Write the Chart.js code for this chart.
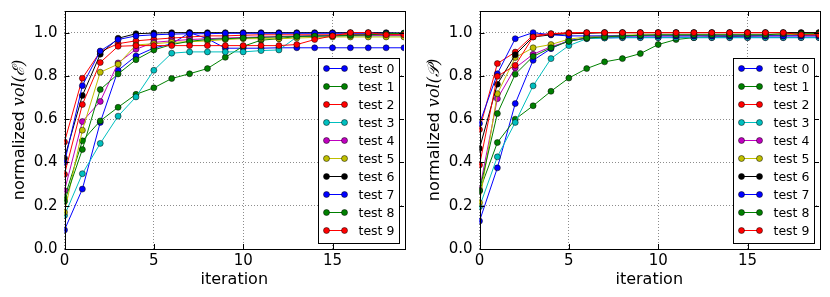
<!DOCTYPE html>
<html>
<head>
<meta charset="utf-8">
<script src="https://cdn.jsdelivr.net/npm/chart.js@4/dist/chart.umd.min.js"></script>
<style>
  body { margin: 0; background: #fff; }
  .row { display: flex; width: 830px; height: 297px; }
  canvas { display: block; }
</style>
</head>
<body>
<div class="row">
  <canvas id="ell" width="415" height="297"></canvas>
  <canvas id="poly" width="415" height="297"></canvas>
</div>
<script>
// x values (iterations) and series names
const iterations = [0, 1, 2, 3, 4, 5, 6, 7, 8, 9, 10, 11, 12, 13, 14, 15, 16, 17, 18, 19];
const testNames = ['test 0', 'test 1', 'test 2', 'test 3', 'test 4', 'test 5', 'test 6', 'test 7', 'test 8', 'test 9'];
// matplotlib classic cycle b g r c m y k b g r
const testColors = ['#0000ff', '#008000', '#ff0000', '#00bfbf', '#bf00bf', '#bfbf00', '#000000', '#0000ff', '#008000', '#ff0000'];

const yTicks = [0, 0.2, 0.4, 0.6, 0.8, 1.0];
const xTicks = [0, 5, 10, 15];

//////////////////////// left panel: normalized vol(E) ////////////////////////
const ellTest0 = [0.088, 0.277, 0.585, 0.826, 0.892, 0.929, 0.948, 1.0, 0.972, 0.928, 0.928, 0.928, 0.93, 0.93, 0.93, 0.93, 0.93, 0.93, 0.93, 0.93];
const ellTest1 = [0.235, 0.5, 0.592, 0.655, 0.715, 0.745, 0.788, 0.81, 0.834, 0.886, 0.937, 0.965, 0.972, 0.983, 0.985, 0.987, 0.99, 0.99, 0.99, 0.995];
const ellTest2 = [0.495, 0.789, 0.912, 0.949, 0.962, 0.969, 0.975, 0.98, 0.985, 0.985, 0.988, 0.99, 0.99, 0.99, 0.99, 0.99, 0.99, 0.99, 0.99, 0.99];
const ellTest3 = [0.155, 0.348, 0.488, 0.614, 0.703, 0.826, 0.905, 0.911, 0.911, 0.911, 0.911, 0.917, 0.92, 0.98, 0.985, 0.985, 0.985, 0.985, 0.985, 0.985];
const ellTest4 = [0.27, 0.589, 0.682, 0.86, 0.923, 0.955, 0.962, 0.968, 0.972, 0.975, 0.978, 0.98, 0.982, 0.984, 0.985, 0.986, 0.987, 0.988, 0.988, 0.988];
const ellTest5 = [0.17, 0.549, 0.817, 0.854, 0.943, 0.949, 0.955, 0.958, 0.962, 0.968, 0.972, 0.972, 0.972, 0.975, 0.978, 0.98, 0.98, 0.98, 0.98, 0.98];
const ellTest6 = [0.42, 0.709, 0.9, 0.974, 0.995, 0.998, 1.0, 1.0, 1.0, 1.0, 1.0, 1.0, 1.0, 1.0, 1.0, 1.0, 1.0, 1.0, 1.0, 0.998];
const ellTest7 = [0.4, 0.755, 0.915, 0.968, 0.985, 0.99, 0.993, 0.995, 0.995, 0.997, 0.997, 0.997, 0.997, 0.997, 0.997, 0.997, 0.997, 0.997, 0.997, 0.997];
const ellTest8 = [0.22, 0.46, 0.737, 0.809, 0.875, 0.92, 0.945, 0.96, 0.968, 0.972, 0.975, 0.978, 0.98, 0.982, 0.984, 0.985, 0.987, 0.99, 0.995, 0.997];
const ellTest9 = [0.345, 0.668, 0.862, 0.937, 0.94, 0.94, 0.94, 0.94, 0.94, 0.94, 0.94, 0.94, 0.94, 0.945, 0.968, 0.985, 1.0, 1.0, 0.99, 0.99];

//////////////////////// right panel: normalized vol(P) ///////////////////////
const polyTest0 = [0.129, 0.375, 0.672, 0.872, 0.926, 0.965, 0.974, 0.976, 0.977, 0.977, 0.977, 0.977, 0.977, 0.977, 0.977, 0.977, 0.977, 0.977, 0.977, 0.977];
const polyTest1 = [0.268, 0.492, 0.6, 0.662, 0.729, 0.79, 0.834, 0.865, 0.88, 0.903, 0.945, 0.968, 0.977, 0.98, 0.982, 0.984, 0.986, 0.99, 0.99, 0.995];
const polyTest2 = [0.552, 0.857, 0.91, 0.988, 0.995, 1.0, 1.0, 1.0, 1.0, 1.0, 1.0, 1.0, 1.0, 1.0, 1.0, 1.0, 1.0, 1.0, 1.0, 1.0];
const polyTest3 = [0.195, 0.426, 0.585, 0.754, 0.88, 0.94, 0.972, 0.975, 0.977, 0.977, 0.977, 0.977, 0.977, 0.977, 0.977, 0.977, 0.977, 0.977, 0.977, 0.977];
const polyTest4 = [0.275, 0.695, 0.837, 0.9, 0.935, 0.96, 0.975, 0.98, 0.983, 0.985, 0.985, 0.985, 0.985, 0.985, 0.985, 0.985, 0.985, 0.985, 0.985, 0.985];
const polyTest5 = [0.214, 0.718, 0.885, 0.93, 0.945, 0.97, 0.98, 0.985, 0.988, 0.99, 0.99, 0.99, 0.99, 0.99, 0.99, 0.99, 0.99, 0.99, 0.99, 0.99];
const polyTest6 = [0.465, 0.762, 0.898, 0.98, 0.99, 0.995, 0.997, 1.0, 1.0, 1.0, 1.0, 1.0, 1.0, 1.0, 1.0, 1.0, 1.0, 1.0, 1.0, 1.0];
const polyTest7 = [0.58, 0.81, 0.972, 1.0, 0.99, 0.985, 0.985, 0.985, 0.985, 0.985, 0.985, 0.985, 0.985, 0.985, 0.985, 0.985, 0.985, 0.985, 0.985, 0.985];
const polyTest8 = [0.27, 0.626, 0.808, 0.89, 0.93, 0.96, 0.975, 0.98, 0.985, 0.988, 0.99, 0.99, 0.99, 0.99, 0.99, 0.99, 0.99, 0.995, 0.995, 0.995];
const polyTest9 = [0.388, 0.798, 0.849, 0.98, 0.995, 0.997, 1.0, 1.0, 1.0, 1.0, 1.0, 1.0, 1.0, 1.0, 1.0, 1.0, 1.0, 1.0, 0.99, 0.99];

const ellSeries = [ellTest0, ellTest1, ellTest2, ellTest3, ellTest4, ellTest5, ellTest6, ellTest7, ellTest8, ellTest9];
const polySeries = [polyTest0, polyTest1, polyTest2, polyTest3, polyTest4, polyTest5, polyTest6, polyTest7, polyTest8, polyTest9];

const FONT = 'DejaVu Sans';

// box, inward ticks, rotated y label with math part, and the inset legend
const framePlugin = {
  id: 'frame',
  afterDraw(chart, args, opts) {
    const ctx = chart.ctx;
    const a = chart.chartArea;
    const xs = chart.scales.x, ys = chart.scales.y;
    ctx.save();
    ctx.strokeStyle = '#000';
    ctx.lineWidth = 1;
    ctx.beginPath();
    xTicks.forEach(v => {
      const px = Math.round(xs.getPixelForValue(v)) + 0.5;
      ctx.moveTo(px, a.bottom); ctx.lineTo(px, a.bottom - 5);
      ctx.moveTo(px, a.top); ctx.lineTo(px, a.top + 5);
    });
    yTicks.forEach(v => {
      const py = Math.round(ys.getPixelForValue(v)) + 0.5;
      ctx.moveTo(a.left, py); ctx.lineTo(a.left + 5, py);
      ctx.moveTo(a.right, py); ctx.lineTo(a.right - 5, py);
    });
    ctx.stroke();
    ctx.strokeRect(Math.round(a.left) + 0.5, Math.round(a.top) + 0.5, Math.round(a.right - a.left), Math.round(a.bottom - a.top));

    // y label: "normalized " + italic math part
    ctx.save();
    ctx.translate(20, (a.top + a.bottom) / 2);
    ctx.rotate(-Math.PI / 2);
    ctx.fillStyle = '#000';
    ctx.textBaseline = 'middle';
    const plain = 'normalized ';
    ctx.font = '16px "' + FONT + '"';
    const w1 = ctx.measureText(plain).width;
    ctx.font = 'italic 16px "DejaVu Serif"';
    const w2 = ctx.measureText(opts.mathLabel).width;
    let x0 = -(w1 + w2) / 2;
    ctx.font = '16px "' + FONT + '"';
    ctx.textAlign = 'left';
    ctx.fillText(plain, x0, 0);
    ctx.font = 'italic 16px "DejaVu Serif"';
    ctx.fillText(opts.mathLabel, x0 + w1, 0);
    ctx.restore();

    // legend box, lower right
    const lw = 81, lh = 185;
    const lx = Math.round(a.right - 86) + 0.5, ly = Math.round(a.top + 47) + 0.5;
    ctx.fillStyle = '#fff';
    ctx.fillRect(lx, ly, lw, lh);
    ctx.strokeRect(lx, ly, lw, lh);
    ctx.font = '12.5px "' + FONT + '"';
    ctx.textBaseline = 'middle';
    ctx.textAlign = 'left';
    chart.data.datasets.forEach((ds, i) => {
      const ry = ly + 10 + i * 18;
      ctx.strokeStyle = ds.borderColor;
      ctx.beginPath();
      ctx.moveTo(lx + 8, ry); ctx.lineTo(lx + 26, ry);
      ctx.stroke();
      [lx + 8, lx + 26].forEach(mx => {
        ctx.beginPath();
        ctx.arc(mx, ry, 3, 0, Math.PI * 2);
        ctx.fillStyle = ds.borderColor;
        ctx.fill();
        ctx.strokeStyle = '#000';
        ctx.lineWidth = 0.5;
        ctx.stroke();
        ctx.lineWidth = 1;
      });
      ctx.fillStyle = '#000';
      ctx.fillText(ds.label, lx + 40, ry + 1);
    });
    ctx.restore();
  }
};

function makeChart(id, series, mathLabel) {
  const datasets = series.map((vals, i) => ({
    label: testNames[i],
    data: vals.map((v, k) => ({ x: iterations[k], y: v })),
    borderColor: testColors[i],
    backgroundColor: testColors[i],
    pointBackgroundColor: testColors[i],
    pointBorderColor: '#000',
    pointBorderWidth: 0.5,
    pointRadius: 3,
    borderWidth: 1,
    tension: 0,
    order: series.length - i   // later tests drawn on top, like matplotlib
  }));

  return new Chart(document.getElementById(id), {
    type: 'line',
    data: { datasets },
    options: {
      responsive: false,
      animation: false,
      layout: { padding: { top: 11, right: 11, left: 0, bottom: 0 } },
      plugins: {
        legend: { display: false },
        tooltip: { enabled: false },
        frame: { mathLabel }
      },
      scales: {
        x: {
          type: 'linear', min: 0, max: 19,
          afterFit: s => { s.height = 48; s.paddingLeft = 0; s.paddingRight = 0; },
          ticks: { stepSize: 5, includeBounds: false, maxRotation: 0, padding: 3, color: '#000', font: { family: FONT, size: 15 } },
          grid: { color: 'rgba(0,0,0,0.45)', drawTicks: false },
          border: { display: false, dash: [1, 2] },
          title: { display: true, text: 'iteration', color: '#000', font: { family: FONT, size: 16 }, padding: { top: 0, bottom: 8 } }
        },
        y: {
          min: 0, max: 1.1,
          afterFit: s => { s.width = 64.5; s.paddingTop = 0; s.paddingBottom = 0; },
          ticks: { stepSize: 0.2, includeBounds: false, padding: 7, color: '#000', font: { family: FONT, size: 15 }, callback: v => v.toFixed(1) },
          grid: { color: 'rgba(0,0,0,0.45)', drawTicks: false },
          border: { display: false, dash: [1, 2] }
        }
      }
    },
    plugins: [framePlugin]
  });
}

makeChart('ell', ellSeries, 'vol(ℰ)');
makeChart('poly', polySeries, 'vol(𝒫)');
</script>
</body>
</html>
